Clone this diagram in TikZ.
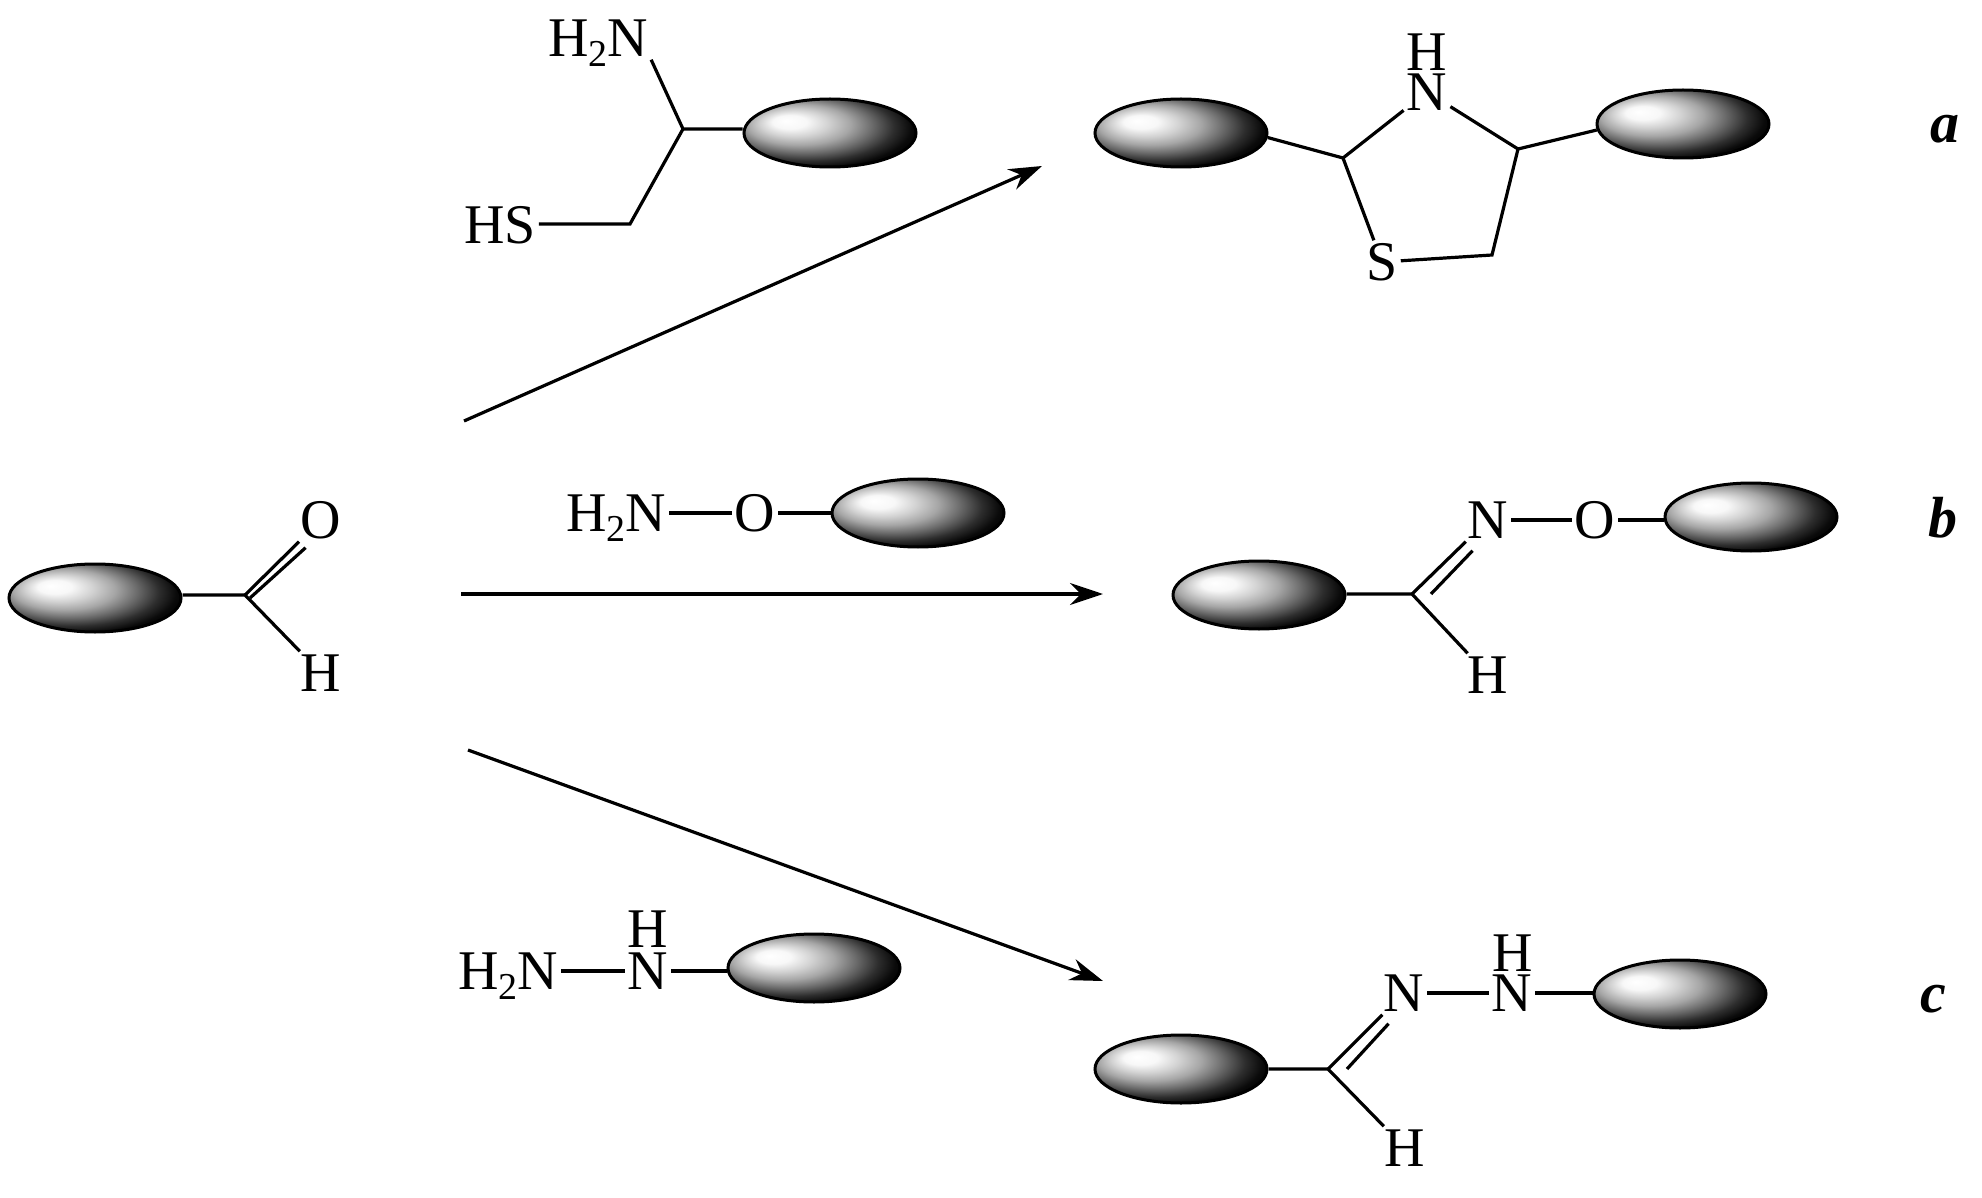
\documentclass[tikz,border=0pt]{standalone}
\usepackage{fontspec}
\setmainfont{Liberation Serif}
\usetikzlibrary{shapes.geometric,arrows.meta}
\newcommand{\amine}{H\raisebox{-10pt}{\fontsize{38}{38}\selectfont 2}N}
\pgfdeclareradialshading{beadshade}{\pgfpoint{-13bp}{9bp}}{%
  color(0bp)=(white); color(5bp)=(black!3); color(10bp)=(black!18);
  color(15bp)=(black!35); color(20bp)=(black!58); color(25bp)=(black!82);
  color(29bp)=(black!96); color(32bp)=(black); color(50bp)=(black)}
\tikzset{
  atom/.style={font=\fontsize{56}{56}\selectfont,inner sep=3pt,text height=37pt,text depth=0pt},
  tag/.style={font=\fontsize{58}{58}\selectfont\bfseries\itshape,inner sep=0pt},
  bead/.style={ellipse,draw,line width=3pt,minimum width=172pt,minimum height=68pt,inner sep=0pt,shading=beadshade},
  bond/.style={line width=3.2pt},
  rxn/.style={line width=3.2pt,-{Stealth[length=33pt,width=22pt]}}
}
\begin{document}
\begin{tikzpicture}[x=1pt,y=-1pt]
  \useasboundingbox (0,0) rectangle (1982,1198);

  \node[bead] (ald) at (95,598) {};
  \coordinate (aldc) at (245,595);
  \node[atom] (aldo) at (321,520) {O};
  \node[atom] (aldh) at (321,673) {H};
  \draw[bond] (ald.east |- aldc) -- (aldc) -- (aldh);
  \draw[bond] (aldc) -- (aldo);
  \draw[bond] ([shift={(5,3)}]aldc) -- ([shift={(8,6)}]aldo.south west);

  \coordinate (starta) at (464,421);
  \coordinate (enda) at (1042,166);
  \coordinate (startb) at (461,594);
  \coordinate (endb) at (1103,594);
  \coordinate (startc) at (468,750);
  \coordinate (endc) at (1103,981);
  \draw[rxn] (starta) -- (enda);
  \draw[rxn] (startb) -- (endb);
  \draw[rxn] (startc) -- (endc);

  \node[atom] (cysn) at (598,38) {\amine};
  \node[atom] (cyss) at (500,225) {HS};
  \node[bead] (cysb) at (830,133) {};
  \coordinate (cysc) at (683,129);
  \coordinate (cysd) at (630,224);
  \draw[bond] (cysn.south east) -- (cysc) -- (cysb.west |- cysc);
  \draw[bond] (cysc) -- (cysd) -- (cyss.east |- cysd);

  \node[bead] (thzl) at (1181,133) {};
  \node[bead] (thzr) at (1683,124) {};
  \node[atom] (thzn) at (1427,92) {N};
  \node[atom,inner sep=0pt] (thzh) at (1427,52) {H};
  \node[atom] (thzs) at (1382,262) {S};
  \coordinate (thza) at (1343,158);
  \coordinate (thzb) at (1518,149);
  \coordinate (thzc) at (1492,255);
  \draw[bond] (thzl.-3) -- (thza) -- (thzn) -- (thzb) -- (thzr.184);
  \draw[bond] (thza) -- (thzs);
  \draw[bond] (thzb) -- (thzc) -- (thzs);

  \node[atom] (oxyn) at (616,513) {\amine};
  \node[atom] (oxyo) at (755,513) {O};
  \node[bead] (oxyb) at (918,513) {};
  \draw[bond] (oxyn) -- (oxyo) -- (oxyb);

  \node[bead] (oxml) at (1259,595) {};
  \node[bead] (oxmr) at (1751,517) {};
  \node[atom] (oxmn) at (1488,520) {N};
  \node[atom] (oxmo) at (1595,520) {O};
  \node[atom] (oxmh) at (1488,675) {H};
  \coordinate (oxmc) at (1412,594);
  \draw[bond] (oxml.east |- oxmc) -- (oxmc) -- (oxmh);
  \draw[bond] (oxmc) -- (oxmn);
  \draw[bond] ([shift={(19,0)}]oxmc) -- ([shift={(8,9)}]oxmn.south west);
  \draw[bond] (oxmn) -- (oxmo) -- (oxmr.west |- oxmo);

  \node[atom] (hydn) at (508,971) {\amine};
  \node[atom] (hydm) at (648,971) {N};
  \node[atom,inner sep=0pt] (hydh) at (648,929) {H};
  \node[bead] (hydb) at (814,968) {};
  \draw[bond] (hydn) -- (hydm) -- (hydb.west |- hydm);

  \node[bead] (hzl) at (1181,1069) {};
  \node[bead] (hzr) at (1680,994) {};
  \node[atom] (hzn) at (1404,993) {N};
  \node[atom] (hzm) at (1512,993) {N};
  \node[atom,inner sep=0pt] (hzh) at (1513,953) {H};
  \node[atom] (hzt) at (1405,1148) {H};
  \coordinate (hzc) at (1328,1069);
  \draw[bond] (hzl) -- (hzc) -- (hzt);
  \draw[bond] (hzc) -- (hzn);
  \draw[bond] ([shift={(19,0)}]hzc) -- ([shift={(8,9)}]hzn.south west);
  \draw[bond] (hzn) -- (hzm) -- (hzr.west |- hzm);

  \node[tag] (taga) at (1945,129) {a};
  \node[tag] (tagb) at (1943,518) {b};
  \node[tag] (tagc) at (1933,999) {c};
\end{tikzpicture}
\end{document}
